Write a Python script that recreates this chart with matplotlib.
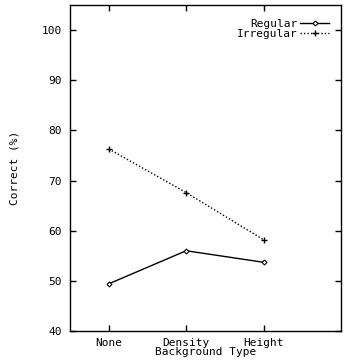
import matplotlib
matplotlib.use("Agg")
import matplotlib.pyplot as plt

categories = ["None", "Density", "Height"]
regular = [49.4, 56.0, 53.7]
irregular = [76.3, 67.6, 58.2]
yticks = [40, 50, 60, 70, 80, 90, 100]

plt.rcParams["font.family"] = "DejaVu Sans Mono"
plt.rcParams["font.size"] = 8

fig = plt.figure(figsize=(3.6, 3.6), dpi=100)
ax = fig.add_axes([70 / 360, 29 / 360, 271 / 360, 326 / 360])

x = list(range(1, len(categories) + 1))
ax.plot(x, regular, color="black", lw=1.0, marker="D", markersize=2.5,
        markerfacecolor="white", markeredgewidth=0.8, label="Regular")
ax.plot(x, irregular, color="black", lw=1.0, ls=(0, (1, 1.5)), marker="+",
        markersize=5, markeredgewidth=1.0, label="Irregular")

ax.set_xlim(0.5, 4)
ax.set_ylim(40, 105)
ax.set_xticks(x)
ax.set_xticklabels(categories)
ax.set_yticks(yticks)
ax.tick_params(direction="in", top=True, right=True, length=4.5, width=1)
ax.tick_params(axis="y", pad=6)
ax.tick_params(axis="x", pad=5)
for s in ax.spines.values():
    s.set_linewidth(1)

ax.set_xlabel("Background Type", labelpad=-1)
ax.set_ylabel("Correct (%)", labelpad=16)

ax.legend(loc="upper right", bbox_to_anchor=(0.997, 0.992), frameon=False,
          markerfirst=False, handlelength=2.6, handletextpad=0.2,
          labelspacing=0.0, borderaxespad=0.6)

fig.savefig("out.png", dpi=100)
